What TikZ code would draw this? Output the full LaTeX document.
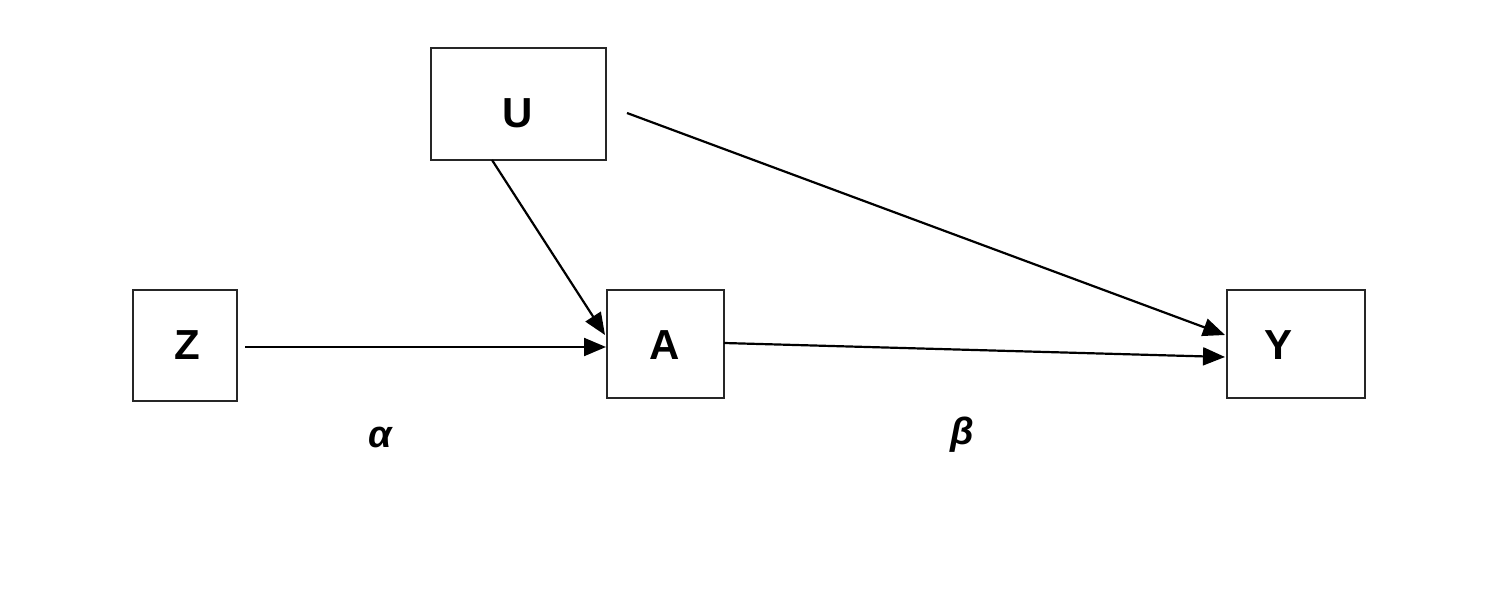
\documentclass[tikz,border=0pt]{standalone}
\usepackage{fontspec}
\setmainfont{Liberation Sans}
\usetikzlibrary{arrows.meta}
\begin{document}
\begin{tikzpicture}[x=1pt,y=-1pt,
  box/.style={draw=black!85,line width=2.8pt,inner sep=0pt},
  txt/.style={font=\fontsize{42}{50}\selectfont\bfseries},
  conn/.style={line width=2.2pt,-{Triangle[length=22pt,width=18pt]}},
  lab/.style={font=\fontsize{38}{44}\selectfont\bfseries\itshape}]
\useasboundingbox (0,0) rectangle (1486,604);
\node[box,minimum width=175pt,minimum height=112pt] (U) at (518.5,104) {};
\node[box,minimum width=104pt,minimum height=111pt] (Z) at (185,345.5) {};
\node[box,minimum width=117pt,minimum height=108pt] (A) at (665.5,344) {};
\node[box,minimum width=138pt,minimum height=108pt] (Y) at (1296,344) {};
\node[txt] (Ut) at (518,113) {U};
\node[txt] (Zt) at (187,345) {Z};
\node[txt] (At) at (665,345) {A};
\node[txt] (Yt) at (1278,345) {Y};
\coordinate (zs) at (245,347);
\coordinate (ae) at (606,347);
\coordinate (us) at (492,160);
\coordinate (ua) at (605,335);
\coordinate (uy0) at (627,113);
\coordinate (uy) at (1225,335);
\coordinate (as) at (724,343);
\coordinate (ay) at (1225,357);
\draw[conn] (zs) -- (ae);
\draw[conn] (us) -- (ua);
\draw[conn] (uy0) -- (uy);
\draw[conn] (as) -- (ay);
\node[lab] (alpha) at (380,437) {α};
\node[lab] (beta) at (962,435) {β};
\end{tikzpicture}
\end{document}
